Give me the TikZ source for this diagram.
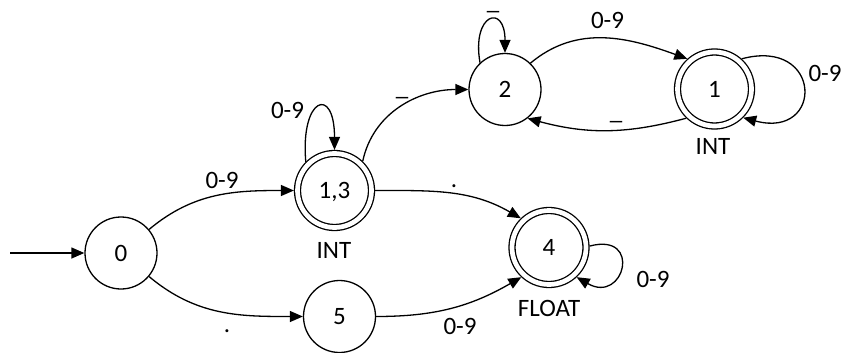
\documentclass[tikz,border=0pt]{standalone}
\usepackage{fontspec}
\setmainfont{Carlito}
\usetikzlibrary{arrows.meta}
\begin{document}
\begin{tikzpicture}[x=1pt,y=-1pt,
  every node/.style={font=\fontsize{25}{30}\selectfont},
  state/.style={circle,draw,line width=1.3pt,minimum size=72pt,inner sep=0pt},
  accepting/.style={circle,draw,line width=1.3pt,double,double distance=4.7pt,
    minimum size=74pt,inner sep=0pt,outer sep=3.6pt},
  edge/.style={line width=1.3pt,-{Triangle[length=13pt,width=11pt]}},
  lbl/.style={inner sep=0pt},
  ulbl/.style={inner sep=0pt,anchor=base,text height=0pt}]
\useasboundingbox (0,0) rectangle (848,353);

% states
\node[state] (q0) at (121,253) {0};
\node[accepting,text depth=0pt] (q13) at (334.5,190.5) {1,3};
\node[state] (q2) at (505,89.5) {2};
\node[accepting] (q1) at (714.5,89) {1};
\node[accepting] (q4) at (549,247.5) {4};
\node[state] (q5) at (339.5,316.5) {5};

% start arrow
\coordinate (init) at (10,253);
\draw[edge] (init) -- (q0);

% transitions
\draw[edge] (q0) to[out=40,in=180] (q13);
\draw[edge] (q0) to[out=-40,in=180] (q5);
\draw[edge] (q13.46) to[out=78,in=180] (q2);
\draw[edge] (q13.0) to[out=0,in=150] (q4.134);
\draw[edge] (q5.0) to[out=0,in=210] (q4.227);
\draw[edge] (q2.46) to[out=40,in=160] (q1.132);
\draw[edge] (q1.226) to[out=195,in=-15] (q2.-52);

% self loops (y axis points down, so control angles are mirrored)
\draw[edge] (q13.135) .. controls +(-95:65) and +(-90:65) .. (q13.90);
\draw[edge] (q2.133) .. controls +(-100:50) and +(-90:50) .. (q2.90);
\draw[edge] (q1.48) .. controls +(-15:84) and +(15:84) .. (q1.-45);
\draw[edge] (q4.2) .. controls +(-15:55) and +(30:55) .. (q4.-47);

% transition labels
\node[lbl] (l01) at (222,180) {0-9};
\node[lbl] (l05) at (227,331) {.};
\node[lbl] (l134) at (454,186) {.};
\node[ulbl] (l132) at (402,95) {\_};
\node[lbl] (l13s) at (287.5,110) {0-9};
\node[ulbl] (l2s) at (493,10) {\_};
\node[lbl] (l21) at (607.5,20.5) {0-9};
\node[ulbl] (l12) at (616,119) {\_};
\node[lbl] (l1s) at (825,73.5) {0-9};
\node[lbl] (l54) at (460,326.5) {0-9};
\node[lbl] (l4s) at (653,279) {0-9};

% token names
\node[lbl] (t13) at (334,250) {INT};
\node[lbl] (t1) at (713,146.5) {INT};
\node[lbl] (t4) at (549,308.5) {FLOAT};
\end{tikzpicture}
\end{document}
